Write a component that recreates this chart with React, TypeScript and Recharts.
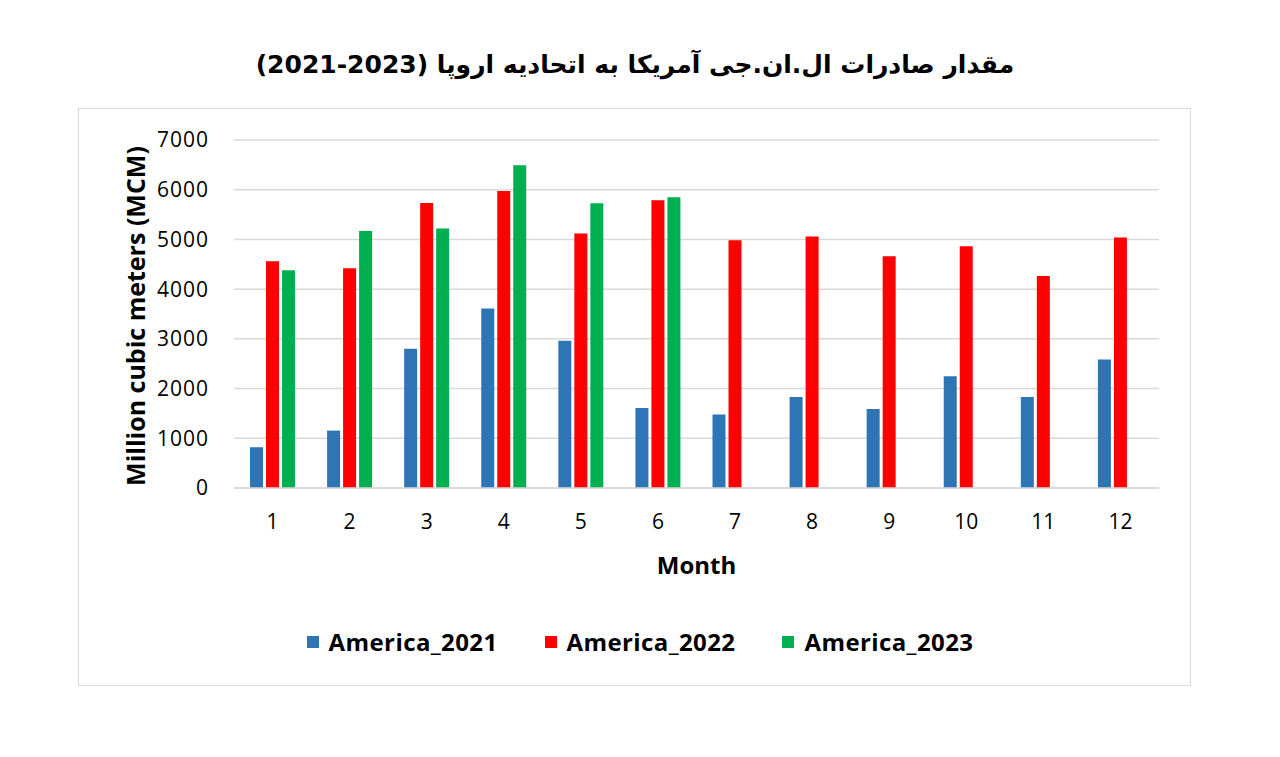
import React from 'react';
import { BarChart, Bar, XAxis, YAxis, CartesianGrid, Label } from 'recharts';

const months = ['1', '2', '3', '4', '5', '6', '7', '8', '9', '10', '11', '12'];
const america2021 = [820, 1155, 2800, 3610, 2960, 1610, 1480, 1830, 1590, 2250, 1830, 2585];
const america2022 = [4560, 4420, 5735, 5975, 5120, 5790, 4985, 5060, 4660, 4865, 4265, 5040];
const america2023: (number | null)[] = [4380, 5170, 5220, 6490, 5730, 5850, null, null, null, null, null, null];
const yTicks = [0, 1000, 2000, 3000, 4000, 5000, 6000, 7000];

const series = [
  { key: 'America_2021', color: '#2E75B6' },
  { key: 'America_2022', color: '#FF0000' },
  { key: 'America_2023', color: '#00B050' },
];

const data = months.map((m, i) => ({
  month: m,
  America_2021: america2021[i],
  America_2022: america2022[i],
  America_2023: america2023[i],
}));

const FONT = '"Open Sans", "DejaVu Sans", sans-serif';

export default function App() {
  return (
    <div style={{ position: 'absolute', left: 0, top: 0, width: 1280, height: 757, background: '#fff', fontFamily: FONT }}>
      <div
        style={{
          position: 'absolute', left: 0, top: 50, width: 1270, textAlign: 'center',
          fontFamily: '"DejaVu Sans", sans-serif', fontWeight: 'bold', fontSize: 25, color: '#000', direction: 'rtl',
        }}
      >
        مقدار صادرات ال.ان.جی آمریکا به اتحادیه اروپا (2023-2021)
      </div>
      <div style={{ position: 'absolute', left: 78, top: 108, width: 1111, height: 576, border: '1.5px solid #d9d9d9' }} />
      <div style={{ position: 'absolute', left: 0, top: 0 }}>
        <BarChart
          width={1280}
          height={757}
          data={data}
          margin={{ top: 140, right: 121, left: 134, bottom: 179 }}
          barSize={13}
          barGap={3}
        >
          <CartesianGrid vertical={false} stroke="#d9d9d9" strokeWidth={1.5} />
          <XAxis
            dataKey="month"
            height={90}
            axisLine={{ stroke: '#d9d9d9', strokeWidth: 1.5 }}
            tickLine={false}
            tickSize={0}
            tickMargin={26}
            tick={{ fill: '#000', fontSize: 21, fontFamily: FONT }}
          >
            <Label
              content={(props: any) => {
                const vb = props.viewBox || {};
                return (
                  <text
                    x={vb.x + vb.width / 2}
                    y={vb.y + 76}
                    textAnchor="middle"
                    dominantBaseline="central"
                    fontFamily={FONT}
                    fontWeight="bold"
                    fontSize={24}
                    fill="#000"
                  >
                    Month
                  </text>
                );
              }}
            />
          </XAxis>
          <YAxis
            width={100}
            domain={[0, 7000]}
            ticks={yTicks}
            interval={0}
            axisLine={false}
            tickLine={false}
            tickSize={0}
            tickMargin={25}
            tick={{ fill: '#000', fontSize: 21, fontFamily: FONT, letterSpacing: 1 }}
          >
            <Label
              content={(props: any) => {
                const vb = props.viewBox || {};
                const cx = vb.x + 1;
                const cy = vb.y + vb.height / 2 + 2;
                return (
                  <text
                    x={cx}
                    y={cy}
                    transform={`rotate(-90 ${cx} ${cy})`}
                    textAnchor="middle"
                    dominantBaseline="central"
                    fontFamily={FONT}
                    fontWeight="bold"
                    fontSize={25}
                    fill="#000"
                  >
                    Million cubic meters (MCM)
                  </text>
                );
              }}
            />
          </YAxis>
          {series.map((s) => (
            <Bar key={s.key} dataKey={s.key} fill={s.color} isAnimationActive={false} />
          ))}
        </BarChart>
      </div>
      <div
        style={{
          position: 'absolute', left: 0, top: 625, width: 1280, display: 'flex', justifyContent: 'center',
          alignItems: 'center', gap: 47, fontFamily: FONT, fontWeight: 'bold', fontSize: 24, letterSpacing: 0.4, color: '#000',
        }}
      >
        {series.map((s) => (
          <div key={s.key} style={{ display: 'flex', alignItems: 'center' }}>
            <span style={{ display: 'inline-block', width: 12, height: 12, background: s.color, marginRight: 10 }} />
            <span>{s.key}</span>
          </div>
        ))}
      </div>
    </div>
  );
}
